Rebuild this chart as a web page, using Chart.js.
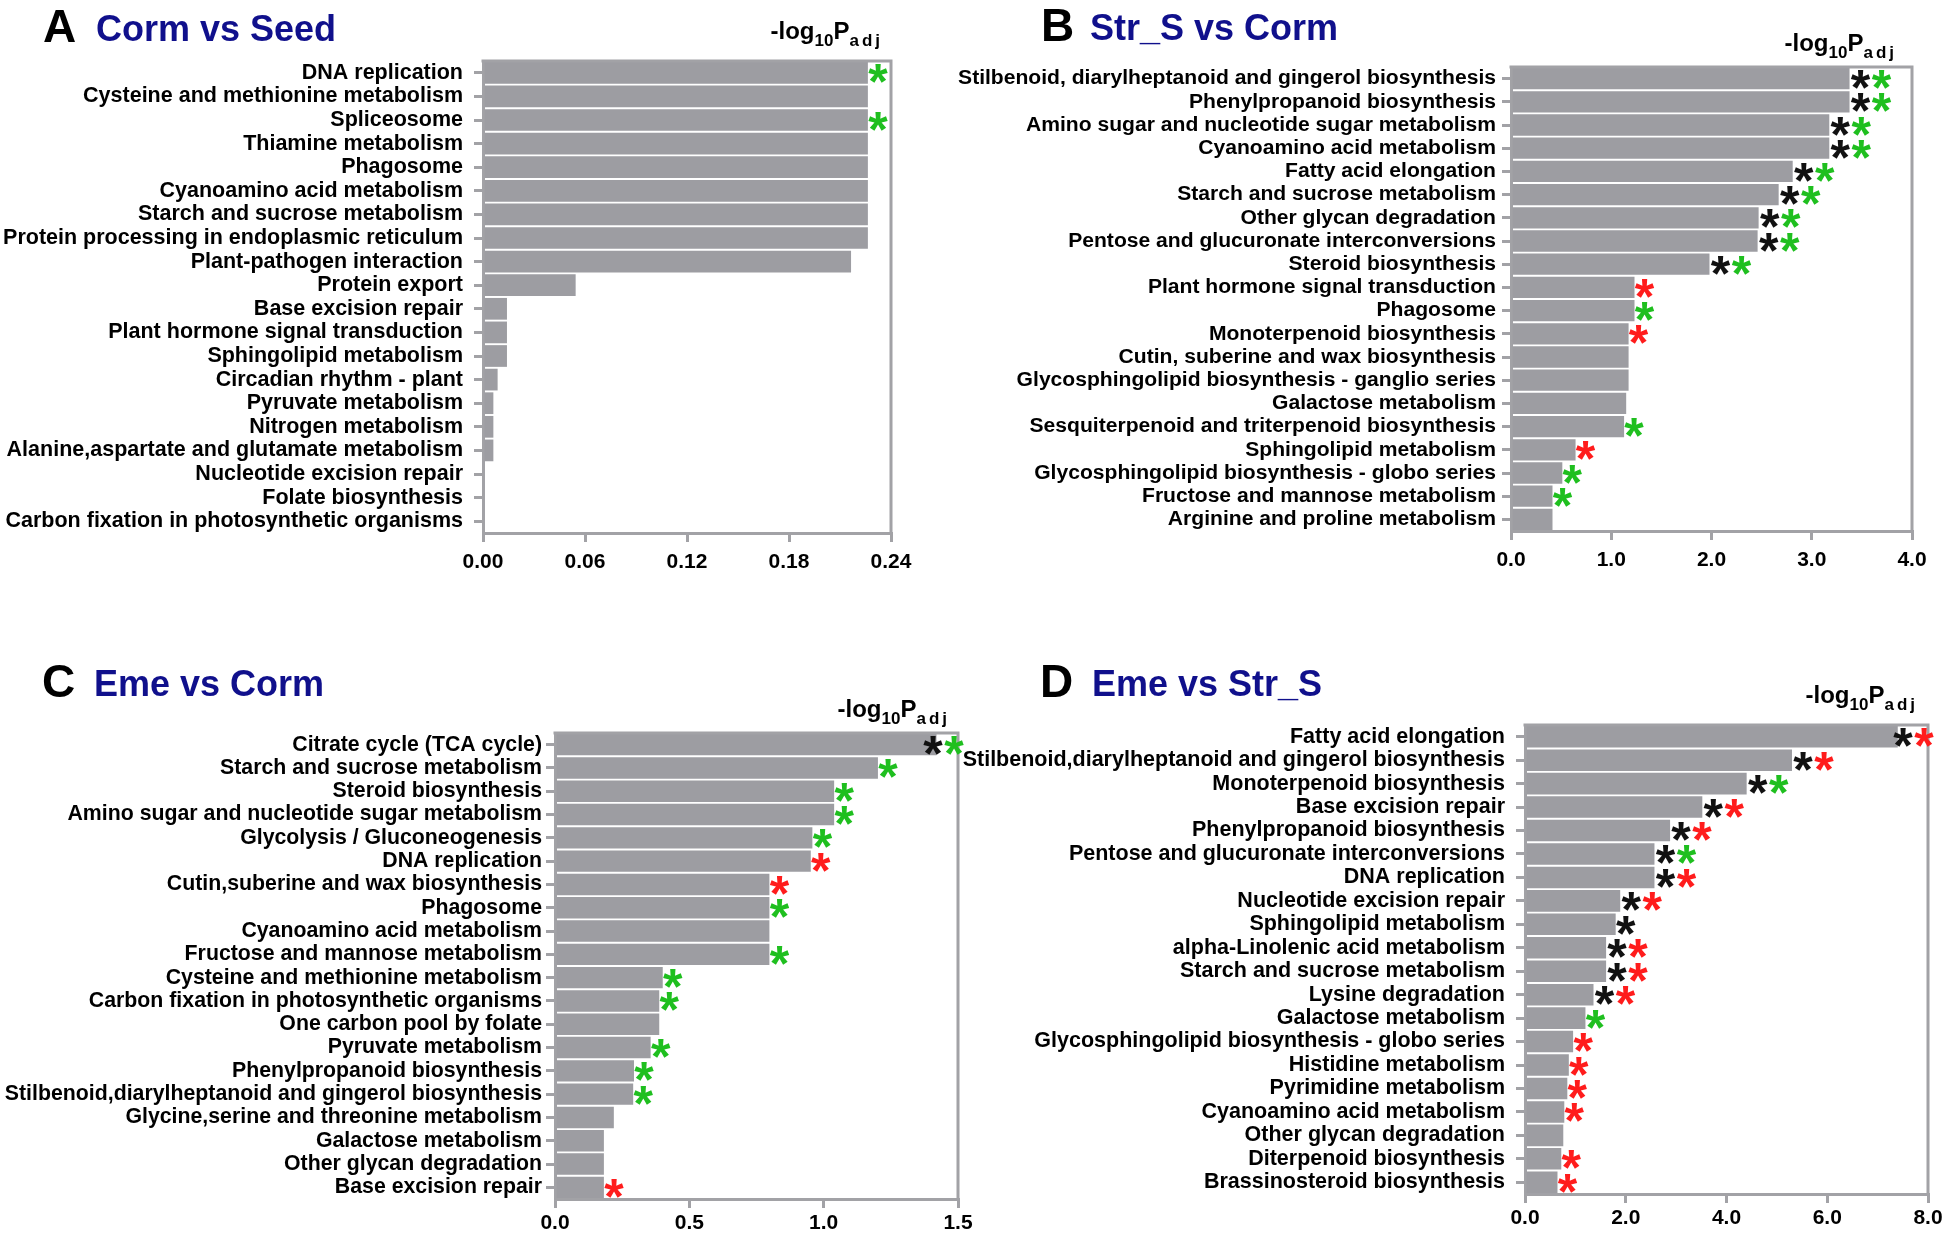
<!DOCTYPE html>
<html>
<head>
<meta charset="utf-8">
<script src="https://cdn.jsdelivr.net/npm/chart.js@4.4.0/dist/chart.umd.min.js"></script>
<style>
  html, body { margin: 0; padding: 0; background: #fff; }
  body { width: 1946px; height: 1237px; position: relative; overflow: hidden; }
  canvas { position: absolute; }
</style>
</head>
<body>
<canvas id="chartA"></canvas>
<canvas id="chartB"></canvas>
<canvas id="chartC"></canvas>
<canvas id="chartD"></canvas>
<script>
// ---- data ----
const labelsA = [
  'DNA replication', 'Cysteine and methionine metabolism', 'Spliceosome', 'Thiamine metabolism',
  'Phagosome', 'Cyanoamino acid metabolism', 'Starch and sucrose metabolism',
  'Protein processing in endoplasmic reticulum', 'Plant-pathogen interaction', 'Protein export',
  'Base excision repair', 'Plant hormone signal transduction', 'Sphingolipid metabolism',
  'Circadian rhythm - plant', 'Pyruvate metabolism', 'Nitrogen metabolism',
  'Alanine,aspartate and glutamate metabolism', 'Nucleotide excision repair', 'Folate biosynthesis',
  'Carbon fixation in photosynthetic organisms'
];
const valuesA = [0.2264, 0.2264, 0.2264, 0.2264, 0.2264, 0.2264, 0.2264, 0.2264, 0.2165, 0.0545,
  0.0141, 0.0141, 0.0141, 0.0086, 0.0061, 0.0061, 0.0061, 0, 0, 0];
const starsA = ['g', '', 'g', '', '', '', '', '', '', '', '', '', '', '', '', '', '', '', '', ''];
const ticksA = [0, 0.06, 0.12, 0.18, 0.24];

const labelsB = [
  'Stilbenoid, diarylheptanoid and gingerol biosynthesis', 'Phenylpropanoid biosynthesis',
  'Amino sugar and nucleotide sugar metabolism', 'Cyanoamino acid metabolism', 'Fatty acid elongation',
  'Starch and sucrose metabolism', 'Other glycan degradation', 'Pentose and glucuronate interconversions',
  'Steroid biosynthesis', 'Plant hormone signal transduction', 'Phagosome', 'Monoterpenoid biosynthesis',
  'Cutin, suberine and wax biosynthesis', 'Glycosphingolipid biosynthesis - ganglio series',
  'Galactose metabolism', 'Sesquiterpenoid and triterpenoid biosynthesis', 'Sphingolipid metabolism',
  'Glycosphingolipid biosynthesis - globo series', 'Fructose and mannose metabolism',
  'Arginine and proline metabolism'
];
const valuesB = [3.377, 3.377, 3.175, 3.175, 2.81, 2.67, 2.47, 2.46, 1.98, 1.232,
  1.232, 1.173, 1.173, 1.173, 1.149, 1.128, 0.644, 0.512, 0.414, 0.414];
const starsB = ['kg', 'kg', 'kg', 'kg', 'kg', 'kg', 'kg', 'kg', 'kg', 'r', 'g', 'r', '', '', '', 'g', 'r', 'g', 'g', ''];
const ticksB = [0, 1, 2, 3, 4];

const labelsC = [
  'Citrate cycle (TCA cycle)', 'Starch and sucrose metabolism', 'Steroid biosynthesis',
  'Amino sugar and nucleotide sugar metabolism', 'Glycolysis / Gluconeogenesis', 'DNA replication',
  'Cutin,suberine and wax biosynthesis', 'Phagosome', 'Cyanoamino acid metabolism',
  'Fructose and mannose metabolism', 'Cysteine and methionine metabolism',
  'Carbon fixation in photosynthetic organisms', 'One carbon pool by folate', 'Pyruvate metabolism',
  'Phenylpropanoid biosynthesis', 'Stilbenoid,diarylheptanoid and gingerol biosynthesis',
  'Glycine,serine and threonine metabolism', 'Galactose metabolism', 'Other glycan degradation',
  'Base excision repair'
];
const valuesC = [1.420, 1.202, 1.039, 1.039, 0.958, 0.952, 0.798, 0.798, 0.798, 0.798,
  0.401, 0.388, 0.388, 0.356, 0.294, 0.291, 0.219, 0.182, 0.182, 0.182];
const starsC = ['kg', 'g', 'g', 'g', 'g', 'r', 'r', 'g', '', 'g', 'g', 'g', '', 'g', 'g', 'g', '', '', '', 'r'];
const ticksC = [0, 0.5, 1, 1.5];

const labelsD = [
  'Fatty acid elongation', 'Stilbenoid,diarylheptanoid and gingerol biosynthesis',
  'Monoterpenoid biosynthesis', 'Base excision repair', 'Phenylpropanoid biosynthesis',
  'Pentose and glucuronate interconversions', 'DNA replication', 'Nucleotide excision repair',
  'Sphingolipid metabolism', 'alpha-Linolenic acid metabolism', 'Starch and sucrose metabolism',
  'Lysine degradation', 'Galactose metabolism', 'Glycosphingolipid biosynthesis - globo series',
  'Histidine metabolism', 'Pyrimidine metabolism', 'Cyanoamino acid metabolism',
  'Other glycan degradation', 'Diterpenoid biosynthesis', 'Brassinosteroid biosynthesis'
];
const valuesD = [7.40, 5.30, 4.40, 3.52, 2.88, 2.57, 2.57, 1.89, 1.80, 1.61,
  1.61, 1.36, 1.20, 0.955, 0.87, 0.84, 0.78, 0.76, 0.72, 0.645];
const starsD = ['kr', 'kr', 'kg', 'kr', 'kr', 'kg', 'kr', 'kr', 'k', 'kr', 'kr', 'kr', 'g', 'r', 'r', 'r', 'r', '', 'r', 'r'];
const ticksD = [0, 2, 4, 6, 8];

// ---- styles ----
const FONT = "'Liberation Sans', Arial, Helvetica, sans-serif";
const barGrey = 'rgb(157,157,162)';
const axisGrey = 'rgb(162,162,166)';
const navy = '#10108c';
const starColors = { k: '#111111', g: '#1fbf1f', r: '#ff1c1c' };

// canvas boxes and plot areas in page pixels
const panels = [
  { id: 'chartA', letter: 'A', title: 'Corm vs Seed', labels: labelsA, values: valuesA, stars: starsA,
    ticks: ticksA, dec: 2, box: { left: 0, top: 0, w: 980, h: 620 },
    area: { left: 483, right: 891, top: 61, bottom: 533 }, letterX: 43, titleX: 96, titleY: 42,
    unitDy: 22, unitDx: 8, yPad: 11, xPad: 8, labelSize: 21.5 },
  { id: 'chartB', letter: 'B', title: 'Str_S vs Corm', labels: labelsB, values: valuesB, stars: starsB,
    ticks: ticksB, dec: 1, box: { left: 940, top: 0, w: 1006, h: 620 },
    area: { left: 1511, right: 1912, top: 67, bottom: 531 }, letterX: 1041, titleX: 1090, titleY: 41,
    unitDy: 16, unitDx: 15, yPad: 6, xPad: 8, labelSize: 21.1 },
  { id: 'chartC', letter: 'C', title: 'Eme vs Corm', labels: labelsC, values: valuesC, stars: starsC,
    ticks: ticksC, dec: 1, box: { left: 0, top: 620, w: 980, h: 617 },
    area: { left: 555, right: 958, top: 733, bottom: 1199 }, letterX: 42, titleX: 94, titleY: 697,
    unitDy: 16, unitDx: 8, yPad: 4, xPad: 3, labelSize: 21.3 },
  { id: 'chartD', letter: 'D', title: 'Eme vs Str_S', labels: labelsD, values: valuesD, stars: starsD,
    ticks: ticksD, dec: 1, box: { left: 940, top: 620, w: 1006, h: 617 },
    area: { left: 1525, right: 1928, top: 725, bottom: 1194 }, letterX: 1040, titleX: 1092, titleY: 697,
    unitDy: 22, unitDx: 10, yPad: 11, xPad: 3, labelSize: 21.5 }
];

const X_AXIS_H = 50;

// box lines, asterisks, titles and the axis unit
const decorPlugin = {
  id: 'decor',
  afterDatasetsDraw(chart) {
    const p = chart.options.plugins.decor.panel;
    const ctx = chart.ctx;
    const a = chart.chartArea;
    ctx.save();
    ctx.strokeStyle = axisGrey;
    ctx.lineWidth = 3;
    ctx.beginPath();
    ctx.moveTo(a.left - 1.5, a.top);
    ctx.lineTo(a.right, a.top);
    ctx.lineTo(a.right, a.bottom + 1.5);
    ctx.stroke();

    ctx.font = 'bold 50px ' + FONT;
    ctx.textAlign = 'center';
    ctx.textBaseline = 'alphabetic';
    const m = ctx.measureText('*');
    const shift = (m.actualBoundingBoxAscent - m.actualBoundingBoxDescent) / 2;
    const meta = chart.getDatasetMeta(0);
    p.stars.forEach((s, i) => {
      if (!s) return;
      const bar = meta.data[i];
      let xs = s.length === 1 ? [bar.x + 10] : [bar.x + 11, bar.x + 32];
      const over = xs[xs.length - 1] - (a.right - 4);
      if (over > 0) xs = xs.map(x => x - over);
      s.split('').forEach((c, j) => {
        ctx.fillStyle = starColors[c];
        ctx.fillText('*', xs[j], bar.y + shift + 1);
      });
    });
    ctx.restore();
  },
  afterDraw(chart) {
    const p = chart.options.plugins.decor.panel;
    const ctx = chart.ctx;
    const a = chart.chartArea;
    const ox = p.box.left, oy = p.box.top;
    ctx.save();
    ctx.textBaseline = 'alphabetic';
    ctx.textAlign = 'left';
    ctx.fillStyle = '#000';
    ctx.font = 'bold 46px ' + FONT;
    ctx.fillText(p.letter, p.letterX - ox, p.titleY - oy);
    ctx.fillStyle = navy;
    ctx.font = 'bold 36px ' + FONT;
    ctx.fillText(p.title, p.titleX - ox, p.titleY - oy - 1);

    // -log10Padj
    const big = 'bold 24px ' + FONT, small = 'bold 17px ' + FONT;
    const parts = [['-log', big, 0, 0], ['10', small, 7, 0], ['P', big, 0, 0], ['adj', small, 7, 3]];
    let total = 0;
    parts.forEach(pt => {
      ctx.font = pt[1];
      ctx.letterSpacing = pt[3] + 'px';
      pt.push(ctx.measureText(pt[0]).width);
      total += pt[4];
    });
    let x = a.right - p.unitDx - total;
    const base = a.top - p.unitDy;
    ctx.fillStyle = '#000';
    parts.forEach(pt => {
      ctx.font = pt[1];
      ctx.letterSpacing = pt[3] + 'px';
      ctx.fillText(pt[0], x, base + pt[2]);
      x += pt[4];
    });
    ctx.restore();
  }
};

panels.forEach(p => {
  const cv = document.getElementById(p.id);
  cv.width = p.box.w;
  cv.height = p.box.h;
  cv.style.left = p.box.left + 'px';
  cv.style.top = p.box.top + 'px';
  const plotLeft = p.area.left - p.box.left;
  const plotRight = p.area.right - p.box.left;
  const plotTop = p.area.top - p.box.top;
  const plotBottom = p.area.bottom - p.box.top;

  new Chart(cv.getContext('2d'), {
    type: 'bar',
    data: {
      labels: p.labels,
      datasets: [{
        data: p.values,
        backgroundColor: barGrey,
        borderWidth: 0,
        barPercentage: 0.92,
        categoryPercentage: 1.0
      }]
    },
    options: {
      indexAxis: 'y',
      responsive: false,
      animation: false,
      devicePixelRatio: 1,
      layout: { padding: { left: 0, top: plotTop, right: p.box.w - plotRight, bottom: p.box.h - plotBottom - X_AXIS_H } },
      plugins: { legend: { display: false }, tooltip: { enabled: false }, decor: { panel: p } },
      scales: {
        x: {
          type: 'linear',
          min: p.ticks[0],
          max: p.ticks[p.ticks.length - 1],
          afterBuildTicks: s => { s.ticks = p.ticks.map(v => ({ value: v })); },
          afterFit: s => { s.height = X_AXIS_H; },
          grid: { drawOnChartArea: false, tickLength: 9, color: axisGrey, lineWidth: 3 },
          border: { color: axisGrey, width: 3 },
          ticks: {
            color: '#000', padding: p.xPad, maxRotation: 0,
            font: { family: FONT, size: 21, weight: 'bold' },
            callback: v => Number(v).toFixed(p.dec)
          }
        },
        y: {
          type: 'category',
          afterFit: s => { s.width = plotLeft; },
          grid: { drawOnChartArea: false, offset: false, tickLength: 9, color: axisGrey, lineWidth: 3 },
          border: { color: axisGrey, width: 3 },
          ticks: {
            color: '#000', padding: p.yPad, autoSkip: false,
            font: { family: FONT, size: p.labelSize, weight: 'bold' }
          }
        }
      }
    },
    plugins: [decorPlugin]
  });
});
</script>
</body>
</html>
